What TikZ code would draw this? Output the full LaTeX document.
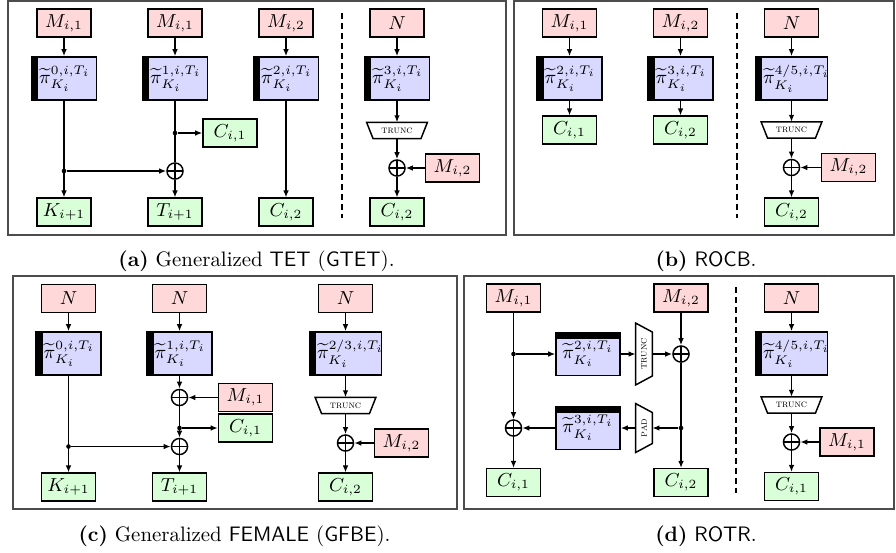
\documentclass[tikz,border=0pt]{standalone}
\usetikzlibrary{arrows.meta,calc}

\definecolor{inpink}{RGB}{255,217,217}
\definecolor{outgreen}{RGB}{217,255,217}
\definecolor{permblue}{RGB}{217,217,255}

% permutation label
\newcommand\permtext[1]{$\widetilde{\pi}^{#1,i,T_i}_{K_i}$}
% outline of a truncation / padding trapezoid around a node
\newcommand\trapout[2]{%
  \draw[line width=0.7pt] (#1.north west) -- (#1.north east)
    -- ($(#1.south east)!#2!(#1.south west)$)
    -- ($(#1.south west)!#2!(#1.south east)$) -- cycle;}

\begin{document}
\begin{tikzpicture}[x=0.4785pt,y=-0.4785pt,
  box/.style={draw, line width=0.7pt, minimum width=25.8pt, minimum height=13.2pt, inner sep=1pt, font=\small},
  inbox/.style={box, fill=inpink},
  outbox/.style={box, fill=outgreen},
  perm/.style={draw, line width=0.7pt, fill=permblue, minimum height=20.6pt,
    text width=#1, inner xsep=0pt, inner ysep=1pt, align=left, font=\small,
    path picture={\fill[black] (path picture bounding box.south west)
      rectangle ([xshift=3.3pt]path picture bounding box.north west);}},
  perm/.default=31.1pt,
  permtop/.style={draw, line width=0.7pt, fill=permblue, minimum height=20.6pt,
    minimum width=30.6pt, inner sep=1pt, font=\small,
    path picture={\fill[black] (path picture bounding box.north west)
      rectangle ([yshift=-3.3pt]path picture bounding box.north east);}},
  xor/.style={circle, draw, line width=0.7pt, minimum size=7.7pt, inner sep=0pt,
    path picture={\draw[line width=0.7pt]
      (path picture bounding box.north) -- (path picture bounding box.south)
      (path picture bounding box.west) -- (path picture bounding box.east);}},
  dot/.style={circle, fill, inner sep=0pt, minimum size=2.2pt},
  trh/.style={minimum width=28.7pt, minimum height=7.4pt, inner sep=0pt, font=\tiny\scshape},
  trv/.style={rotate=90, minimum width=#1, minimum height=7.6pt, inner sep=0pt, font=\tiny\scshape},
  arr/.style={line width=0.7pt, -{Latex[length=3.4pt,width=2.7pt]}},
  conn/.style={line width=0.7pt},
  sep/.style={line width=0.7pt, dash pattern=on 2.9pt off 1.9pt},
  frame/.style={line width=0.55pt, draw=black!70},
  caption/.style={font=\normalsize}
]
\useasboundingbox (0,0) rectangle (896,552);

% ---------------- frames ----------------
\draw[frame] (8,1) rectangle (506,235);
\draw[frame] (514,1) rectangle (894,235);
\draw[frame] (13,276) rectangle (457,509);
\draw[frame] (464,276) rectangle (894,509);

% ---------------- (a) Generalized TET ----------------
\node[inbox] (aM1) at (64,23) {$M_{i,1}$};
\node[perm] (aP0) at (64,78.5) {\hspace*{3.7pt}\permtext{0}};
\node[outbox] (aK) at (64,212) {$K_{i+1}$};
\node[dot] (aD1) at (64,171) {};

\node[inbox] (aM2) at (175,23) {$M_{i,1}$};
\node[perm] (aP1) at (175,78.5) {\hspace*{3.7pt}\permtext{1}};
\node[dot] (aD2) at (175,133) {};
\node[outbox] (aC1) at (230,133) {$C_{i,1}$};
\node[xor] (aX) at (175,171) {};
\node[outbox] (aT) at (175,212) {$T_{i+1}$};

\node[inbox] (aM3) at (286,23) {$M_{i,2}$};
\node[perm] (aP2) at (286,78.5) {\hspace*{3.7pt}\permtext{2}};
\node[outbox] (aC2) at (286,212) {$C_{i,2}$};

\draw[sep] (342,13) -- (342,218);

\node[inbox] (aN) at (397,23) {$N$};
\node[perm] (aP3) at (397,78.5) {\hspace*{3.7pt}\permtext{3}};
\node[trh] (aTr) at (397,130.5) {trunc};
\trapout{aTr}{3.1pt}
\node[xor] (aX2) at (397,168) {};
\node[inbox] (aM4) at (452.5,168) {$M_{i,2}$};
\node[outbox] (aC3) at (397,212) {$C_{i,2}$};

\draw[arr] (aM1) -- (aP0);
\draw[arr] (aP0) -- (aK);
\draw[arr] (aD1) -- (aX);
\draw[arr] (aM2) -- (aP1);
\draw[conn] (aP1) -- (aX);
\draw[arr] (aD2) -- (aC1);
\draw[arr] (aX) -- (aT);
\draw[arr] (aM3) -- (aP2);
\draw[arr] (aP2) -- (aC2);
\draw[arr] (aN) -- (aP3);
\draw[arr] (aP3) -- (aTr.north);
\draw[arr] (aTr.south) -- (aX2);
\draw[arr] (aM4) -- (aX2);
\draw[arr] (aX2) -- (aC3);

\node[caption] (capA) at (256.5,261) {\textbf{(a)} Generalized \textsf{TET} (\textsf{GTET}).};

% ---------------- (b) ROCB ----------------
\node[inbox] (bM1) at (569.5,23) {$M_{i,1}$};
\node[perm] (bP2) at (569.5,78.5) {\hspace*{3.7pt}\permtext{2}};
\node[outbox] (bC1) at (569.5,130) {$C_{i,1}$};

\node[inbox] (bM2) at (680.5,23) {$M_{i,2}$};
\node[perm] (bP3) at (680.5,78.5) {\hspace*{3.7pt}\permtext{3}};
\node[outbox] (bC2) at (680.5,130) {$C_{i,2}$};

\draw[sep] (737,13) -- (737,218);

\node[inbox] (bN) at (791.5,23) {$N$};
\node[perm=34.6pt] (bP45) at (791.5,78.5) {\hspace*{3.7pt}\permtext{4/5}};
\node[trh] (bTr) at (791.5,130) {trunc};
\trapout{bTr}{3.1pt}
\node[xor] (bX) at (791.5,167.5) {};
\node[inbox] (bM3) at (848.5,167.5) {$M_{i,2}$};
\node[outbox] (bC3) at (791.5,212) {$C_{i,2}$};

\draw[arr] (bM1) -- (bP2);
\draw[arr] (bP2) -- (bC1);
\draw[arr] (bM2) -- (bP3);
\draw[arr] (bP3) -- (bC2);
\draw[arr] (bN) -- (bP45);
\draw[arr] (bP45) -- (bTr.north);
\draw[arr] (bTr.south) -- (bX);
\draw[arr] (bM3) -- (bX);
\draw[arr] (bX) -- (bC3);

\node[caption] (capB) at (706,261) {\textbf{(b)} \textsf{ROCB}.};

% ---------------- (c) Generalized FEMALE ----------------
\node[inbox] (cN1) at (68.5,298.5) {$N$};
\node[perm] (cP0) at (68.5,353.5) {\hspace*{3.7pt}\permtext{0}};
\node[dot] (cD1) at (68.5,446.5) {};
\node[outbox] (cK) at (68.5,487) {$K_{i+1}$};

\node[inbox] (cN2) at (179.5,298.5) {$N$};
\node[perm] (cP1) at (179.5,353.5) {\hspace*{3.7pt}\permtext{1}};
\node[xor] (cX1) at (179.5,397.5) {};
\node[inbox] (cM1) at (245.5,397.5) {$M_{i,1}$};
\node[dot] (cD2) at (179.5,428) {};
\node[outbox] (cC1) at (245.5,428) {$C_{i,1}$};
\node[xor] (cX2) at (179.5,446.5) {};
\node[outbox] (cT) at (179.5,487) {$T_{i+1}$};

\node[inbox] (cN3) at (345.5,298.5) {$N$};
\node[perm=34.6pt] (cP23) at (345.5,353.5) {\hspace*{3.7pt}\permtext{2/3}};
\node[trh] (cTr) at (345.5,405.5) {trunc};
\trapout{cTr}{3.1pt}
\node[xor] (cX3) at (345.5,443) {};
\node[inbox] (cM2) at (401.5,443) {$M_{i,2}$};
\node[outbox] (cC2) at (345.5,487) {$C_{i,2}$};

\draw[arr] (cN1) -- (cP0);
\draw[arr] (cP0) -- (cK);
\draw[arr] (cD1) -- (cX2);
\draw[arr] (cN2) -- (cP1);
\draw[arr] (cP1) -- (cX1);
\draw[arr] (cM1) -- (cX1);
\draw[arr] (cX1) -- (cX2);
\draw[arr] (cD2) -- (cC1);
\draw[arr] (cX2) -- (cT);
\draw[arr] (cN3) -- (cP23);
\draw[arr] (cP23) -- (cTr.north);
\draw[arr] (cTr.south) -- (cX3);
\draw[arr] (cM2) -- (cX3);
\draw[arr] (cX3) -- (cC2);

\node[caption] (capC) at (234.5,536) {\textbf{(c)} Generalized \textsf{FEMALE} (\textsf{GFBE}).};

% ---------------- (d) ROTR ----------------
\node[inbox] (dM1) at (513.5,298) {$M_{i,1}$};
\node[dot] (dD1) at (513.5,354) {};
\node[xor] (dX1) at (513.5,428) {};
\node[outbox] (dC1) at (513.5,482.5) {$C_{i,1}$};

\node[permtop] (dP2) at (588,354) {\raisebox{-1.6pt}{\permtext{2}}};
\node[trv=29.2pt] (dTr) at (644,354) {trunc};
\trapout{dTr}{4.3pt}
\node[permtop] (dP3) at (588,428) {\raisebox{-1.6pt}{\permtext{3}}};
\node[trv=23pt] (dPad) at (644,428) {pad};
\trapout{dPad}{4.3pt}

\node[inbox] (dM2) at (681,298) {$M_{i,2}$};
\node[xor] (dX2) at (681,354) {};
\node[dot] (dD2) at (681,428) {};
\node[outbox] (dC2) at (681,482.5) {$C_{i,2}$};

\draw[sep] (736,287) -- (736,493);

\node[inbox] (dN) at (791.5,298) {$N$};
\node[perm=34.6pt] (dP45) at (791.5,353.5) {\hspace*{3.7pt}\permtext{4/5}};
\node[trh] (dTr2) at (791.5,405) {trunc};
\trapout{dTr2}{3.1pt}
\node[xor] (dX3) at (791.5,442) {};
\node[inbox] (dM3) at (847,442) {$M_{i,1}$};
\node[outbox] (dC3) at (791.5,486.5) {$C_{i,1}$};

\draw[arr] (dM1) -- (dX1);
\draw[arr] (dD1) -- (dP2);
\draw[arr] (dP2) -- (dTr.north);
\draw[arr] (dTr.south) -- (dX2);
\draw[arr] (dM2) -- (dX2);
\draw[arr] (dX2) -- (dC2);
\draw[arr] (dD2) -- (dPad.south);
\draw[arr] (dPad.north) -- (dP3);
\draw[arr] (dP3) -- (dX1);
\draw[arr] (dX1) -- (dC1);
\draw[arr] (dN) -- (dP45);
\draw[arr] (dP45) -- (dTr2.north);
\draw[arr] (dTr2.south) -- (dX3);
\draw[arr] (dM3) -- (dX3);
\draw[arr] (dX3) -- (dC3);

\node[caption] (capD) at (706,536) {\textbf{(d)} \textsf{ROTR}.};
\end{tikzpicture}
\end{document}
